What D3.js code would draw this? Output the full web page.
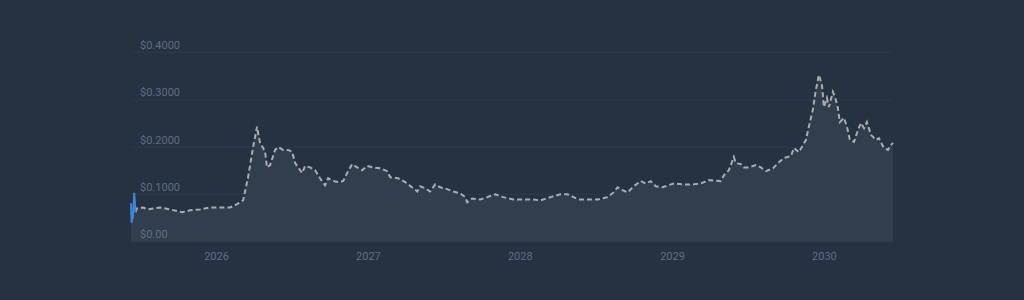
<!DOCTYPE html>
<html><head><meta charset="utf-8">
<script src="https://cdn.jsdelivr.net/npm/d3@7"></script>
<style>
html,body{margin:0;padding:0;background:#263142;}
svg{display:block;}
text{font-family:Roboto,"Noto Sans",sans-serif;}
</style></head>
<body>
<svg id="chart" width="1024" height="300"></svg>
<script>
// Historical prices (decimal years, USD)
const histYears = [2025.440, 2025.444, 2025.453, 2025.461, 2025.470];
const histValues = [0.081, 0.040, 0.052, 0.103, 0.062];

// Forecast prices (decimal years, USD)
const fcYears = [2025.470, 2025.479, 2025.519, 2025.552, 2025.631, 2025.697, 2025.776, 2025.829, 2025.895, 2025.960,
  2026.026, 2026.092, 2026.138, 2026.178, 2026.211, 2026.244, 2026.270, 2026.290, 2026.310, 2026.323,
  2026.336, 2026.356, 2026.389, 2026.409, 2026.442, 2026.474, 2026.501, 2026.521, 2026.567, 2026.586,
  2026.619, 2026.652, 2026.685, 2026.718, 2026.738, 2026.771, 2026.804, 2026.837, 2026.863, 2026.896,
  2026.929, 2026.962, 2026.995, 2027.035, 2027.081, 2027.127, 2027.147, 2027.199, 2027.245, 2027.298,
  2027.325, 2027.344, 2027.377, 2027.410, 2027.443, 2027.476, 2027.522, 2027.562, 2027.608, 2027.641,
  2027.654, 2027.687, 2027.740, 2027.786, 2027.839, 2027.891, 2027.957, 2028.023, 2028.089, 2028.135,
  2028.201, 2028.267, 2028.313, 2028.353, 2028.386, 2028.445, 2028.511, 2028.577, 2028.616, 2028.643,
  2028.675, 2028.708, 2028.748, 2028.794, 2028.827, 2028.860, 2028.893, 2028.939, 2028.972, 2029.012,
  2029.071, 2029.137, 2029.190, 2029.242, 2029.321, 2029.341, 2029.374, 2029.407, 2029.420, 2029.453,
  2029.473, 2029.506, 2029.552, 2029.585, 2029.618, 2029.664, 2029.704, 2029.736, 2029.783, 2029.802,
  2029.835, 2029.862, 2029.881, 2029.901, 2029.927, 2029.947, 2029.967, 2029.987, 2030.000, 2030.020,
  2030.033, 2030.059, 2030.073, 2030.092, 2030.105, 2030.132, 2030.152, 2030.171, 2030.198, 2030.224,
  2030.244, 2030.264, 2030.283, 2030.310, 2030.343, 2030.362, 2030.395, 2030.422, 2030.435, 2030.455];
const fcValues = [0.062, 0.070, 0.072, 0.068, 0.072, 0.068, 0.062, 0.066, 0.068, 0.072,
  0.072, 0.072, 0.079, 0.087, 0.136, 0.200, 0.243, 0.208, 0.198, 0.190,
  0.157, 0.162, 0.194, 0.200, 0.194, 0.194, 0.190, 0.166, 0.145, 0.160,
  0.157, 0.151, 0.134, 0.119, 0.134, 0.128, 0.126, 0.128, 0.145, 0.164,
  0.157, 0.151, 0.160, 0.157, 0.155, 0.149, 0.136, 0.134, 0.126, 0.113,
  0.106, 0.117, 0.113, 0.106, 0.121, 0.115, 0.111, 0.106, 0.102, 0.094,
  0.083, 0.091, 0.089, 0.094, 0.100, 0.094, 0.089, 0.089, 0.089, 0.087,
  0.094, 0.100, 0.100, 0.094, 0.089, 0.089, 0.089, 0.094, 0.104, 0.115,
  0.109, 0.104, 0.117, 0.128, 0.123, 0.128, 0.117, 0.115, 0.119, 0.123,
  0.121, 0.121, 0.123, 0.130, 0.128, 0.140, 0.151, 0.179, 0.166, 0.164,
  0.157, 0.157, 0.162, 0.157, 0.149, 0.155, 0.168, 0.177, 0.181, 0.198,
  0.189, 0.204, 0.215, 0.243, 0.279, 0.321, 0.353, 0.332, 0.285, 0.304,
  0.285, 0.317, 0.306, 0.283, 0.253, 0.262, 0.243, 0.215, 0.211, 0.236,
  0.251, 0.240, 0.253, 0.226, 0.215, 0.219, 0.198, 0.194, 0.202, 0.209];

const yTicks = [0, 0.1, 0.2, 0.3, 0.4];
const yTickLabels = ["$0.00", "$0.1000", "$0.2000", "$0.3000", "$0.4000"];
const xTickYears = [2026, 2027, 2028, 2029, 2030];

function toDate(yv) {
  const yr = Math.floor(yv);
  const start = Date.UTC(yr, 0, 1), end = Date.UTC(yr + 1, 0, 1);
  return new Date(start + (yv - yr) * (end - start));
}

const hist = histYears.map((v, i) => ({d: toDate(v), v: histValues[i]}));
const fc = fcYears.map((v, i) => ({d: toDate(v), v: fcValues[i]}));
const all = hist.concat(fc.slice(1));

const svg = d3.select("#chart");
const plotLeft = 131, plotRight = 893, plotTop = 52.7, plotBottom = 241.5;

const x = d3.scaleUtc()
  .domain([toDate(histYears[0]), toDate(fcYears[fcYears.length - 1])])
  .range([plotLeft, plotRight]);
const y = d3.scaleLinear().domain([0, 0.4]).range([plotBottom, plotTop]);

// gridlines
svg.append("g").selectAll("line").data(yTicks).join("line")
  .attr("x1", plotLeft).attr("x2", plotRight)
  .attr("y1", d => y(d)).attr("y2", d => y(d))
  .attr("stroke", "#2f3b4d").attr("stroke-width", 1);

// area
const area = d3.area().x(d => x(d.d)).y0(y(0)).y1(d => y(d.v));
svg.append("path").datum(all).attr("d", area).attr("fill", "#323d4e");

// y labels
svg.append("g").selectAll("text").data(yTicks).join("text")
  .attr("x", 140).attr("y", d => y(d) - 3.5)
  .attr("fill", "#616e83").attr("font-size", 11)
  .text((d, i) => yTickLabels[i]);

// x axis labels
const xAxis = d3.axisBottom(x)
  .tickValues(xTickYears.map(v => toDate(v)))
  .tickFormat(d3.utcFormat("%Y"))
  .tickSize(0).tickPadding(0);
const gx = svg.append("g").attr("transform", "translate(0,252)").call(xAxis);
gx.select(".domain").remove();
gx.selectAll("text").attr("fill", "#616e83").attr("font-size", 11)
  .attr("font-family", "Roboto, 'Noto Sans', sans-serif");

const line = d3.line().x(d => x(d.d)).y(d => y(d.v));
// forecast dashed line
svg.append("path").datum(fc).attr("d", line)
  .attr("fill", "none").attr("stroke", "#a9adb3").attr("stroke-width", 2)
  .attr("stroke-dasharray", "5,3");
// historical line
svg.append("path").datum(hist).attr("d", line)
  .attr("fill", "none").attr("stroke", "#3d86d8").attr("stroke-width", 2);
</script>
</body></html>
